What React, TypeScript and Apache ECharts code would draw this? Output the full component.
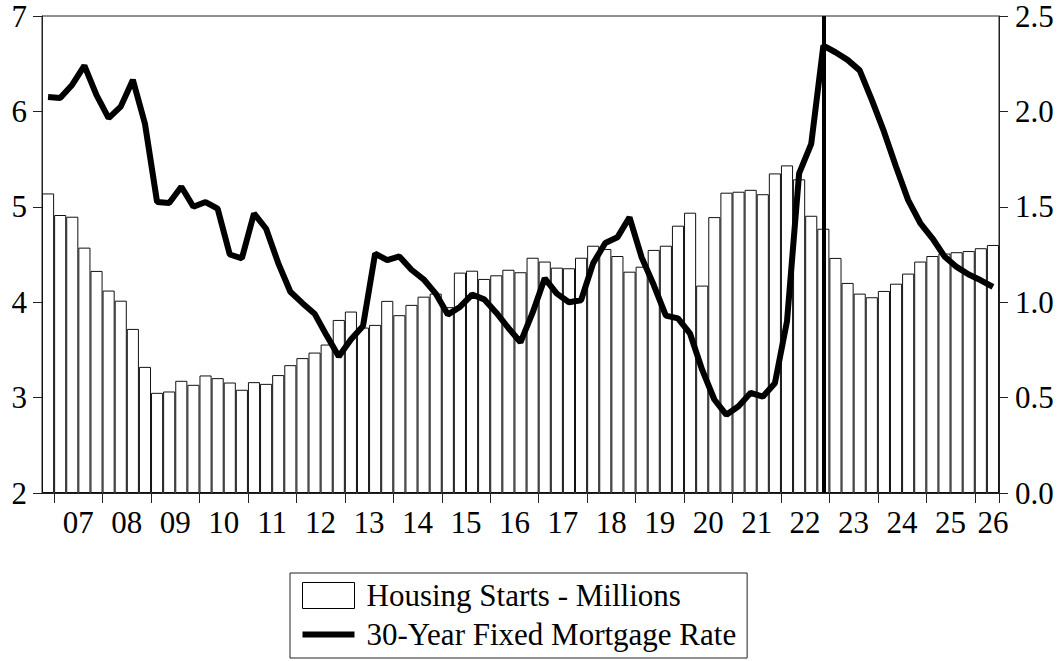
import React, { useEffect, useRef } from "react";
import * as echarts from "echarts";

const quarters: string[] = [
  "2006Q4",
  "2007Q1", "2007Q2", "2007Q3", "2007Q4",
  "2008Q1", "2008Q2", "2008Q3", "2008Q4",
  "2009Q1", "2009Q2", "2009Q3", "2009Q4",
  "2010Q1", "2010Q2", "2010Q3", "2010Q4",
  "2011Q1", "2011Q2", "2011Q3", "2011Q4",
  "2012Q1", "2012Q2", "2012Q3", "2012Q4",
  "2013Q1", "2013Q2", "2013Q3", "2013Q4",
  "2014Q1", "2014Q2", "2014Q3", "2014Q4",
  "2015Q1", "2015Q2", "2015Q3", "2015Q4",
  "2016Q1", "2016Q2", "2016Q3", "2016Q4",
  "2017Q1", "2017Q2", "2017Q3", "2017Q4",
  "2018Q1", "2018Q2", "2018Q3", "2018Q4",
  "2019Q1", "2019Q2", "2019Q3", "2019Q4",
  "2020Q1", "2020Q2", "2020Q3", "2020Q4",
  "2021Q1", "2021Q2", "2021Q3", "2021Q4",
  "2022Q1", "2022Q2", "2022Q3", "2022Q4",
  "2023Q1", "2023Q2", "2023Q3", "2023Q4",
  "2024Q1", "2024Q2", "2024Q3", "2024Q4",
  "2025Q1", "2025Q2", "2025Q3", "2025Q4",
  "2026Q1", "2026Q2",
];

// Housing starts, millions (right axis)
const housingStarts: number[] = [
  1.57,
  1.457, 1.448, 1.286, 1.164,
  1.061, 1.008, 0.86, 0.661,
  0.525, 0.532, 0.588, 0.567,
  0.616, 0.602, 0.579, 0.541,
  0.581, 0.572, 0.618, 0.67,
  0.707, 0.736, 0.778, 0.907,
  0.951, 0.867, 0.881, 1.007,
  0.932, 0.986, 1.029, 1.045,
  0.974, 1.155, 1.165, 1.122,
  1.141, 1.17, 1.157, 1.233,
  1.213, 1.181, 1.178, 1.233,
  1.296, 1.279, 1.242, 1.16,
  1.186, 1.274, 1.296, 1.401,
  1.469, 1.087, 1.446, 1.574,
  1.579, 1.589, 1.566, 1.675,
  1.717, 1.644, 1.453, 1.385,
  1.232, 1.101, 1.045, 1.026,
  1.059, 1.097, 1.15, 1.213,
  1.242, 1.255, 1.262, 1.268,
  1.283, 1.3,
];

// 30-year fixed mortgage rate, percent (left axis)
const mortgageRate: number[] = [
  6.15,
  6.14, 6.28, 6.48, 6.17,
  5.93, 6.05, 6.33, 5.87,
  5.05, 5.04, 5.21, 5.0,
  5.05, 4.98, 4.5, 4.46,
  4.93, 4.77, 4.41, 4.11,
  3.99, 3.88, 3.65, 3.43,
  3.61, 3.75, 4.51, 4.44,
  4.48, 4.34, 4.24, 4.09,
  3.87, 3.95, 4.08, 4.03,
  3.89, 3.73, 3.58, 3.89,
  4.25, 4.09, 4.0, 4.02,
  4.41, 4.62, 4.68, 4.89,
  4.47, 4.18, 3.86, 3.83,
  3.67, 3.29, 2.98, 2.82,
  2.91, 3.05, 3.01, 3.15,
  3.8, 5.35, 5.66, 6.69,
  6.62, 6.54, 6.43, 6.12,
  5.79, 5.42, 5.07, 4.83,
  4.67, 4.48, 4.37, 4.29,
  4.23, 4.16,
];

const leftAxis = { min: 2, max: 7, interval: 1 };
const rightAxis = { min: 0, max: 2.5, interval: 0.5 };
const markerQuarter = "2022Q4";

const seriesNames = ["Housing Starts - Millions", "30-Year Fixed Mortgage Rate"];

const FONT = "'Liberation Serif', 'Times New Roman', serif";
const FS = 31;

export default function App() {
  const ref = useRef<HTMLDivElement>(null);

  useEffect(() => {
    if (!ref.current) return;
    const chart = echarts.init(ref.current, undefined, { renderer: "svg" });
    const lastYear = quarters[quarters.length - 1].slice(0, 4);

    const option: any = {
      animation: false,
      backgroundColor: "#fff",
      grid: {
        left: 42,
        right: 61,
        top: 16,
        bottom: 168,
        show: true,
        borderColor: "#222",
        borderWidth: 1,
        backgroundColor: "transparent",
      },
      legend: {
        orient: "vertical",
        left: 290,
        top: 573,
        padding: [7, 11, 8, 12],
        borderColor: "#222",
        borderWidth: 1,
        backgroundColor: "#fff",
        itemWidth: 52,
        itemHeight: 26,
        itemGap: 8,
        selectedMode: false,
        textStyle: {
          fontFamily: FONT,
          fontSize: FS,
          color: "#000",
          padding: [0, 0, 0, 7],
        },
        data: [
          {
            name: seriesNames[0],
            icon: "rect",
            itemStyle: { color: "#fff", borderColor: "#000", borderWidth: 1 },
          },
          {
            name: seriesNames[1],
            icon: "path://M0 0H52V6H0Z",
            itemStyle: { color: "#000" },
          },
        ],
      },
      xAxis: {
        type: "category",
        data: quarters,
        boundaryGap: true,
        axisLine: { show: true, lineStyle: { color: "#222", width: 1 } },
        axisTick: {
          show: true,
          length: 10,
          interval: (_i: number, v: string) => v.endsWith("Q1"),
          lineStyle: { color: "#222", width: 1 },
        },
        axisLabel: {
          interval: (_i: number, v: string) => v.endsWith("Q2"),
          margin: 14,
          fontFamily: FONT,
          fontSize: FS,
          color: "#000",
          formatter: (v: string) => {
            const yr = v.slice(2, 4);
            return v.slice(0, 4) === lastYear ? `{b|${yr}}` : `{a|${yr}}`;
          },
          rich: {
            a: { fontFamily: FONT, fontSize: FS, color: "#000", padding: [0, 0, 0, 12] },
            b: { fontFamily: FONT, fontSize: FS, color: "#000" },
          },
        },
        splitLine: { show: false },
      },
      yAxis: [
        {
          type: "value",
          position: "left",
          min: leftAxis.min,
          max: leftAxis.max,
          interval: leftAxis.interval,
          axisLine: { show: true, lineStyle: { color: "#222", width: 1 } },
          axisTick: { show: true, length: 9, lineStyle: { color: "#222" } },
          axisLabel: {
            margin: 15,
            fontFamily: FONT,
            fontSize: FS,
            color: "#000",
          },
          splitLine: { show: false },
        },
        {
          type: "value",
          position: "right",
          min: rightAxis.min,
          max: rightAxis.max,
          interval: rightAxis.interval,
          axisLine: { show: true, lineStyle: { color: "#222", width: 1 } },
          axisTick: { show: true, length: 9, lineStyle: { color: "#222" } },
          axisLabel: {
            margin: 16,
            fontFamily: FONT,
            fontSize: FS,
            color: "#000",
            formatter: (v: number) => v.toFixed(1),
          },
          splitLine: { show: false },
        },
      ],
      series: [
        {
          name: seriesNames[0],
          type: "bar",
          yAxisIndex: 1,
          data: housingStarts,
          barCategoryGap: "0%",
          itemStyle: { color: "#fff", borderColor: "#111", borderWidth: 1 },
          z: 1,
          markLine: {
            silent: true,
            symbol: "none",
            label: { show: false },
            lineStyle: { color: "#000", width: 4, type: "solid" },
            data: [{ xAxis: markerQuarter }],
            z: 5,
          },
        },
        {
          name: seriesNames[1],
          type: "line",
          yAxisIndex: 0,
          data: mortgageRate,
          symbol: "none",
          lineStyle: { color: "#000", width: 6 },
          itemStyle: { color: "#000" },
          z: 4,
        },
      ],
    };

    chart.setOption(option);
    return () => chart.dispose();
  }, []);

  return (
    <div
      ref={ref}
      style={{ position: "fixed", left: 0, top: 0, width: 1060, height: 661 }}
    />
  );
}
